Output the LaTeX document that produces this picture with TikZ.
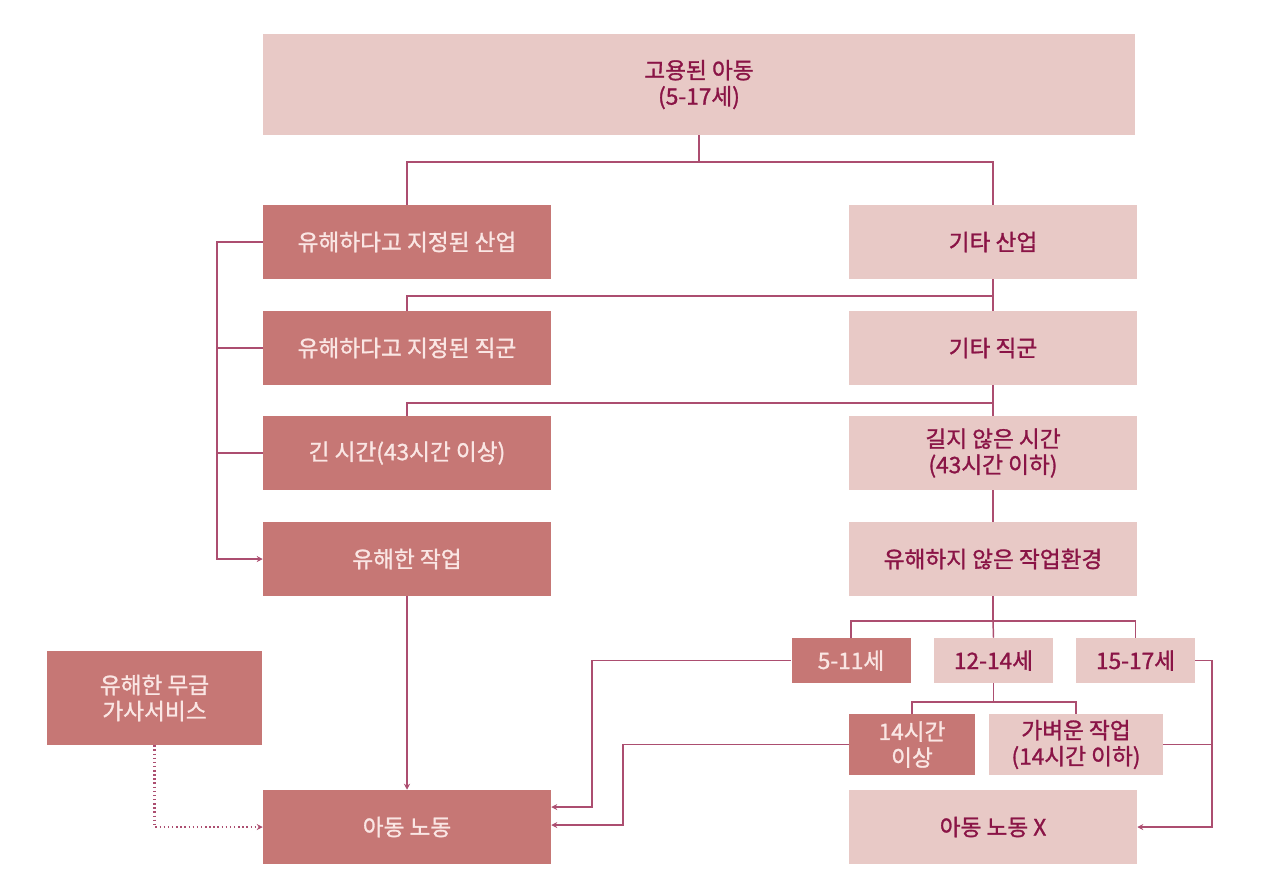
\documentclass[tikz,border=0pt]{standalone}
\usepackage{fontspec}
\setmainfont{Noto Sans CJK KR}[FakeBold=1.2]
\usetikzlibrary{arrows.meta}
\definecolor{darkfill}{RGB}{198,119,117}
\definecolor{lightfill}{RGB}{232,201,198}
\definecolor{darktext}{RGB}{250,230,228}
\definecolor{lighttext}{RGB}{138,20,70}
\definecolor{linec}{RGB}{172,78,112}
\tikzset{
  box/.style={rectangle, inner sep=0pt, align=center, font=\fontsize{17}{19.5}\selectfont},
  darkbox/.style={box, fill=darkfill, text=darktext},
  lightbox/.style={box, fill=lightfill, text=lighttext},
  big/.style={minimum width=216pt, minimum height=55.5pt},
  agebox/.style={minimum width=89.25pt, minimum height=33.75pt},
  conn/.style={draw=linec, line width=1.1pt},
  arr/.style={conn, -{Stealth[length=4.5pt,width=4.5pt]}},
}
\begin{document}
\begin{tikzpicture}[x=0.75pt,y=-0.75pt]
\useasboundingbox (0,0) rectangle (1280,890);
% nodes
\node[lightbox, minimum width=654pt, minimum height=75.75pt] (top) at (699,84.5) {고용된 아동\\(5-17세)};
\node[darkbox, big] (ind) at (407,242) {유해하다고 지정된 산업};
\node[lightbox, big] (oind) at (993,242) {기타 산업};
\node[darkbox, big] (occ) at (407,348) {유해하다고 지정된 직군};
\node[lightbox, big] (oocc) at (993,348) {기타 직군};
\node[darkbox, big] (long) at (407,453) {긴 시간(43시간 이상)};
\node[lightbox, big] (olong) at (993,453) {길지 않은 시간\\(43시간 이하)};
\node[darkbox, big] (haz) at (407,559) {유해한 작업};
\node[lightbox, big] (ohaz) at (993,559) {유해하지 않은 작업환경};
\node[darkbox, minimum width=161.25pt, minimum height=70.5pt] (dom) at (154.5,698) {유해한 무급\\가사서비스};
\node[darkbox, big] (cl) at (407,827) {아동 노동};
\node[lightbox, big] (nocl) at (993,827) {아동 노동 X};
\node[darkbox, agebox] (a1) at (851,660.5) {5-11세};
\node[lightbox, agebox] (a2) at (993.5,660.5) {12-14세};
\node[lightbox, agebox] (a3) at (1135.5,660.5) {15-17세};
\node[darkbox, minimum width=94.5pt, minimum height=45.75pt] (h14) at (912,744.5) {14시간\\이상};
\node[lightbox, minimum width=130.5pt, minimum height=45.75pt] (light) at (1076,744.5) {가벼운 작업\\(14시간 이하)};
% junctions
\coordinate (j1) at (699,162);
\coordinate (j2) at (993,296);
\coordinate (j3) at (993,403);
\coordinate (j4) at (993,621);
\coordinate (j5) at (993.5,702);
\coordinate (k1) at (592,807);
\coordinate (k2) at (623,825);
\coordinate (k3) at (1212,827);
\coordinate (lb) at (217,242);
% connectors
\draw[conn] (top.south) -- (j1);
\draw[conn] (ind.north) |- (j1) -| (oind.north);
\draw[conn] (oind.south) -- (oocc.north);
\draw[conn] (occ.north) |- (j2);
\draw[conn] (oocc.south) -- (olong.north);
\draw[conn] (long.north) |- (j3);
\draw[conn] (olong.south) -- (ohaz.north);
\draw[arr] (ind.west) -- (lb) |- (haz.west);
\draw[conn] (occ.west) -- (occ.west -| lb);
\draw[conn] (long.west) -- (long.west -| lb);
\draw[arr] (haz.south) -- (cl.north);
\draw[arr, dotted, line width=1.6pt] (dom.south) |- (cl.west);
\draw[conn] (ohaz.south) -- (j4);
\draw[conn] (a1.north) |- (j4) -| (a3.north);
\draw[conn] (j4) -- (a2.north);
\draw[conn] (a2.south) -- (j5);
\draw[conn] (h14.north) |- (j5) -| (light.north);
\draw[arr] (a1.west) -| (k1) -- (cl.east |- k1);
\draw[arr] (h14.west) -| (k2) -- (cl.east |- k2);
\draw[arr] (a3.east) -| (k3) -- (nocl.east);
\draw[conn] (light.east) -- (light.east -| k3);
\end{tikzpicture}
\end{document}
